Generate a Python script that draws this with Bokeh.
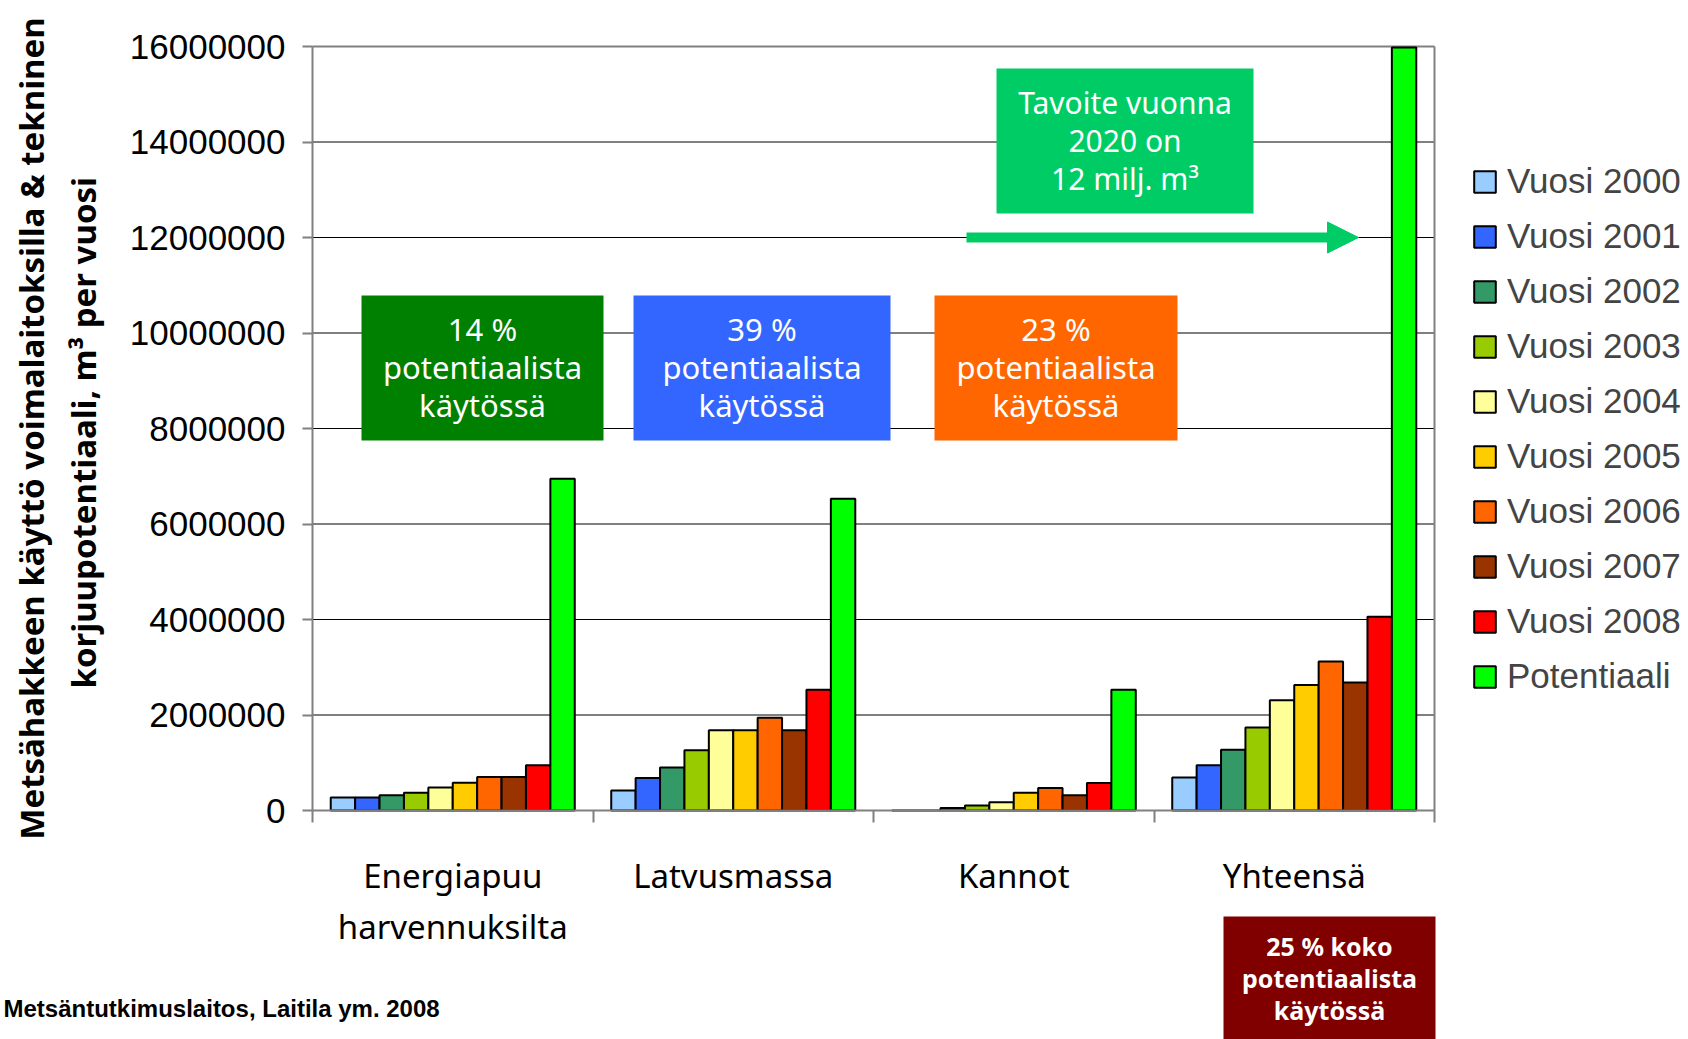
import numpy as np

from bokeh.plotting import figure
from bokeh.models import (Range1d, FixedTicker, NumeralTickFormatter, Label, LinearAxis,
                          Legend, LegendItem, Arrow, NormalHead)
from bokeh.embed import file_html
from bokeh.resources import INLINE

# --- data (m³ per year) ---------------------------------------------------
categories = ["Energiapuu harvennuksilta", "Latvusmassa", "Kannot", "Yhteensä"]
category_lines = [["Energiapuu", "harvennuksilta"], ["Latvusmassa"], ["Kannot"], ["Yhteensä"]]

series_names = ["Vuosi 2000", "Vuosi 2001", "Vuosi 2002", "Vuosi 2003", "Vuosi 2004",
                "Vuosi 2005", "Vuosi 2006", "Vuosi 2007", "Vuosi 2008", "Potentiaali"]
series_colors = ["#99CCFF", "#3366FF", "#339966", "#99CC00", "#FFFF99",
                 "#FFCC00", "#FF6600", "#993300", "#FF0000", "#00FF00"]

vuosi_2000 = [270000, 420000, 0, 690000]
vuosi_2001 = [270000, 680000, 0, 950000]
vuosi_2002 = [320000, 900000, 50000, 1270000]
vuosi_2003 = [370000, 1260000, 105000, 1740000]
vuosi_2004 = [480000, 1680000, 175000, 2310000]
vuosi_2005 = [580000, 1680000, 370000, 2630000]
vuosi_2006 = [700000, 1940000, 470000, 3120000]
vuosi_2007 = [700000, 1680000, 320000, 2680000]
vuosi_2008 = [950000, 2530000, 575000, 4060000]
potentiaali = [6950000, 6530000, 2530000, 15980000]

series_values = [vuosi_2000, vuosi_2001, vuosi_2002, vuosi_2003, vuosi_2004,
                 vuosi_2005, vuosi_2006, vuosi_2007, vuosi_2008, potentiaali]

y_ticks = [0, 2000000, 4000000, 6000000, 8000000, 10000000, 12000000, 14000000, 16000000]

TAVOITE_2020 = 12000000

# --- canvas geometry ----------------------------------------------------------
# The frame fills the whole canvas so that the titles, legend, callouts and
# source line around the bar area can be drawn without being clipped.
CANVAS_W, CANVAS_H = 1688, 1039
AREA_LEFT, AREA_RIGHT, AREA_TOP, AREA_BOTTOM = 312, 1434, 46, 810

n_groups = len(categories)
y_max = y_ticks[-1]
x_per_px = n_groups / (AREA_RIGHT - AREA_LEFT)
y_per_px = y_max / (AREA_BOTTOM - AREA_TOP)


def px_x(px):
    return (px - AREA_LEFT) * x_per_px


def px_y(py):
    return (AREA_BOTTOM - py) * y_per_px


SANS = "Liberation Sans"
HAND = "Noto Sans"
GREY = "#808080"

p = figure(width=CANVAS_W, height=CANVAS_H, output_backend="svg", toolbar_location=None,
           x_range=Range1d(px_x(0), px_x(CANVAS_W)),
           y_range=Range1d(px_y(CANVAS_H), px_y(0)),
           min_border=0)
p.background_fill_color = "white"
p.border_fill_color = "white"
p.outline_line_color = None
p.xgrid.visible = False
p.ygrid.visible = False

# --- y axis -------------------------------------------------------------------
yax = p.yaxis[0]
yax.fixed_location = 0
yax.bounds = (0, y_max)
yax.ticker = FixedTicker(ticks=y_ticks)
yax.formatter = NumeralTickFormatter(format="0")
yax.major_label_text_font = SANS
yax.major_label_text_font_size = "35px"
yax.major_label_text_color = "black"
yax.major_label_standoff = 17
yax.major_tick_out = 10
yax.major_tick_in = 0
yax.minor_tick_line_color = None
yax.axis_line_color = GREY
yax.axis_line_width = 2
yax.major_tick_line_color = GREY
yax.major_tick_line_width = 2
yax.axis_label = "korjuupotentiaali, m³  per vuosi"
yax.axis_label_standoff = 21
yax.axis_label_text_font = HAND
yax.axis_label_text_font_style = "bold"
yax.axis_label_text_font_size = "33px"
yax.axis_label_text_color = "black"

title_axis = LinearAxis(fixed_location=0, bounds=(0, y_max), ticker=FixedTicker(ticks=[]),
                        axis_line_color=None, major_tick_line_color=None,
                        minor_tick_line_color=None, major_tick_out=0, minor_tick_out=0,
                        major_label_text_font_size="0px",
                        axis_label="Metsähakkeen käyttö voimalaitoksilla & tekninen",
                        axis_label_standoff=259, axis_label_text_font=HAND,
                        axis_label_text_font_style="bold", axis_label_text_font_size="33px",
                        axis_label_text_color="black")
p.add_layout(title_axis, "left")

# --- x axis: category names, tick marks between the groups -------------------
group_centres = [i + 0.5 for i in range(n_groups)]
xax = p.xaxis[0]
xax.fixed_location = 0
xax.bounds = (0, n_groups)
xax.ticker = FixedTicker(ticks=group_centres, minor_ticks=list(range(n_groups + 1)))
xax.major_label_overrides = {c: "\n".join(lines) for c, lines in zip(group_centres, category_lines)}
xax.major_label_text_font = HAND
xax.major_label_text_font_size = "33px"
xax.major_label_text_color = "black"
xax.major_label_text_line_height = 1.15
xax.major_label_standoff = 30
xax.major_tick_out = 0
xax.major_tick_in = 0
xax.minor_tick_out = 12
xax.minor_tick_in = 0
xax.minor_tick_line_color = GREY
xax.minor_tick_line_width = 2
xax.axis_line_color = GREY
xax.axis_line_width = 2

# --- gridlines and plot-area border -------------------------------------------
grid_vals = y_ticks[1:-1]
p.segment(x0=[0] * len(grid_vals), x1=[n_groups] * len(grid_vals), y0=grid_vals, y1=grid_vals,
          line_color="black", line_width=1)
p.segment(x0=[0, n_groups], x1=[n_groups, n_groups], y0=[y_max, 0], y1=[y_max, y_max],
          line_color=GREY, line_width=2)

# --- bars -------------------------------------------------------------------
n_series = len(series_values)
group_gap = 0.13
bar_w = (1 - group_gap) / n_series
group_idx = np.arange(n_groups)

items = []
for j, (name, color, vals) in enumerate(zip(series_names, series_colors, series_values)):
    xs = group_idx + group_gap / 2 + (j + 0.5) * bar_w
    r = p.vbar(x=xs, top=vals, bottom=0, width=bar_w, fill_color=color,
               line_color="black", line_width=2)
    items.append(LegendItem(label=name, renderers=[r]))

legend = Legend(items=items, location=(1471, 343))
legend.label_text_font = SANS
legend.label_text_font_size = "35px"
legend.glyph_width = 27
legend.glyph_height = 27
legend.label_height = 27
legend.spacing = 15
legend.padding = 0
legend.margin = 0
legend.label_standoff = 9
legend.border_line_alpha = 0
legend.background_fill_alpha = 0
p.add_layout(legend)

# --- callout boxes ----------------------------------------------------------
callouts = [
    # (left, right, top, bottom in canvas px, colour, lines, line pitch px, font size, style, nudge)
    (361, 603, 295, 440, "#008000", ["14 %", "potentiaalista", "käytössä"], 38, "31px", "normal", 1),
    (633, 890, 295, 440, "#3366FF", ["39 %", "potentiaalista", "käytössä"], 38, "31px", "normal", 1),
    (934, 1177, 295, 440, "#FF6600", ["23 %", "potentiaalista", "käytössä"], 38, "31px", "normal", 1),
    (996, 1253, 68, 213, "#00CC66", ["Tavoite vuonna", "2020 on", "12 milj. m³"], 38, "30px", "normal", 1),
    (1223, 1435, 916, 1045, "#800000", ["25 % koko", "potentiaalista", "käytössä"], 32, "25px", "bold", 3),
]
for left, right, top, bottom, color, lines, pitch, size, style, nudge in callouts:
    p.quad(left=px_x(left), right=px_x(right), top=px_y(top), bottom=px_y(bottom),
           fill_color=color, line_color=None)
    cx = px_x((left + right) / 2)
    cy = px_y((top + bottom) / 2)
    n = len(lines)
    for k, line in enumerate(lines):
        p.add_layout(Label(x=cx, y=cy, y_offset=pitch * ((n - 1) / 2 - k) + nudge, text=line,
                           text_align="center", text_baseline="middle", text_font=HAND,
                           text_font_size=size, text_font_style=style, text_color="white"))

# target arrow at the 2020 goal level
p.add_layout(Arrow(x_start=px_x(966), y_start=TAVOITE_2020, x_end=px_x(1358), y_end=TAVOITE_2020,
                   line_color="#00CC66", line_width=10,
                   end=NormalHead(size=31, fill_color="#00CC66", line_color="#00CC66")))

# source line
p.add_layout(Label(x=px_x(3), y=px_y(1008),
                   text="Metsäntutkimuslaitos, Laitila ym. 2008",
                   text_align="left", text_baseline="middle", text_font=SANS,
                   text_font_style="bold", text_font_size="24px", text_color="black"))

open("out.html", "w").write(file_html(p, INLINE))
